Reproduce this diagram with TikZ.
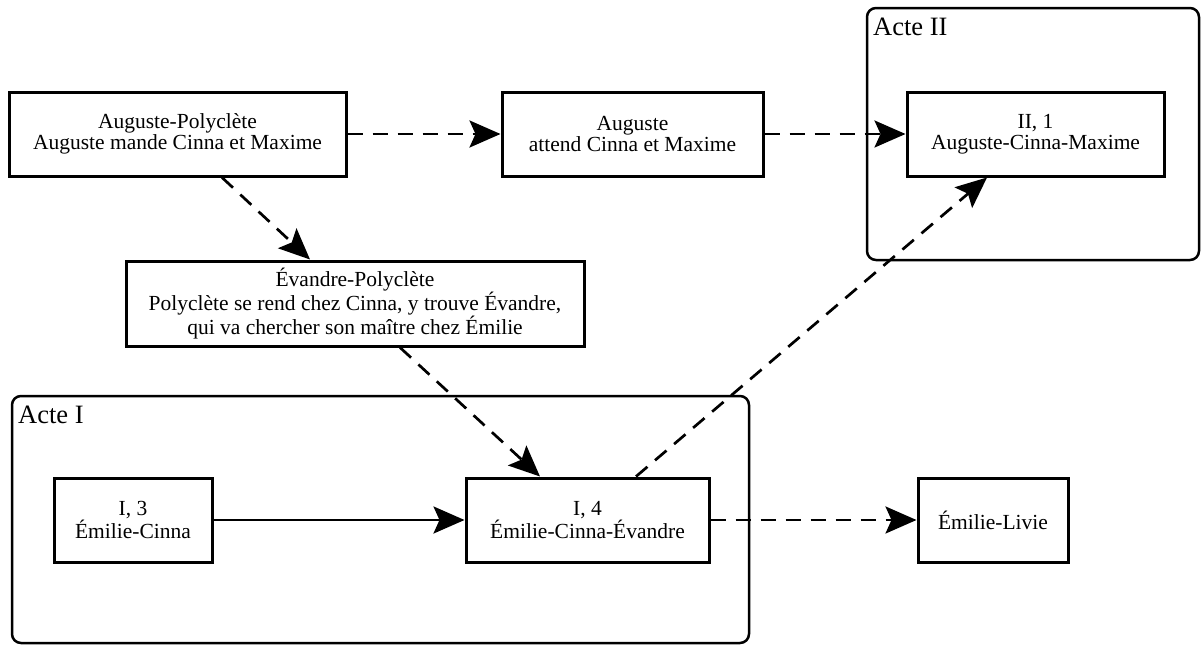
\documentclass[tikz,border=0pt]{standalone}
\usepackage{fontspec}
\setmainfont{Liberation Serif}
\usetikzlibrary{arrows.meta,calc}
\begin{document}
\begin{tikzpicture}[x=1pt,y=-1pt,
  box/.style={draw,line width=3pt,rectangle,inner sep=0pt,align=center,
    font=\fontsize{21.5pt}{21pt}\selectfont},
  cluster/.style={draw,line width=2.5pt,rounded corners=9pt},
  clabel/.style={anchor=base west,inner sep=0pt,font=\fontsize{26.5pt}{30pt}\selectfont},
  conn/.style={line width=2.7pt,-{Stealth[length=31pt,width=27pt,inset=6pt]}},
  dconn/.style={conn,dash pattern=on 15pt off 10pt}]
\useasboundingbox (0,0) rectangle (1201,645);
% clusters
\draw[cluster] (867,8) rectangle (1199,260);
\node[clabel] (l2) at (873,35) {Acte II};
\draw[cluster] (12,396) rectangle (749,643);
\node[clabel] (l1) at (18,423) {Acte I};
% nodes
\node[box,minimum width=337pt,minimum height=84pt] (A) at (177.5,134) {Auguste-Polyclète\\Auguste mande Cinna et Maxime};
\node[box,minimum width=261pt,minimum height=84pt] (B) at (632.5,134) {Auguste\\attend Cinna et Maxime};
\node[box,minimum width=257pt,minimum height=84pt] (C) at (1035.5,134) {II, 1\\Auguste-Cinna-Maxime};
\node[box,minimum width=458pt,minimum height=85pt] (D) at (355,303.5) {Évandre-Polyclète\\Polyclète se rend chez Cinna, y trouve Évandre,\\qui va chercher son maître chez Émilie};
\node[box,minimum width=158pt,minimum height=84pt] (E) at (133,520) {I, 3\\Émilie-Cinna};
\node[box,minimum width=243pt,minimum height=84pt] (F) at (587.5,520) {I, 4\\Émilie-Cinna-Évandre};
\node[box,minimum width=150pt,minimum height=84pt] (G) at (993,520) {Émilie-Livie};
% edges
\draw[dconn] (A.east) -- (B.west);
\draw[dconn] (B.east) -- (C.west);
\draw[dconn] ($(A.south)+(44.5,0)$) -- ($(D.north)+(-45,0)$);
\draw[dconn] ($(D.south)+(45,0)$) -- ($(F.north)+(-47.5,0)$);
\draw[dconn] ($(F.north)+(48.5,0)$) -- ($(C.south)+(-48.5,0)$);
\draw[conn] (E.east) -- (F.west);
\draw[dconn] (F.east) -- (G.west);
\end{tikzpicture}
\end{document}
